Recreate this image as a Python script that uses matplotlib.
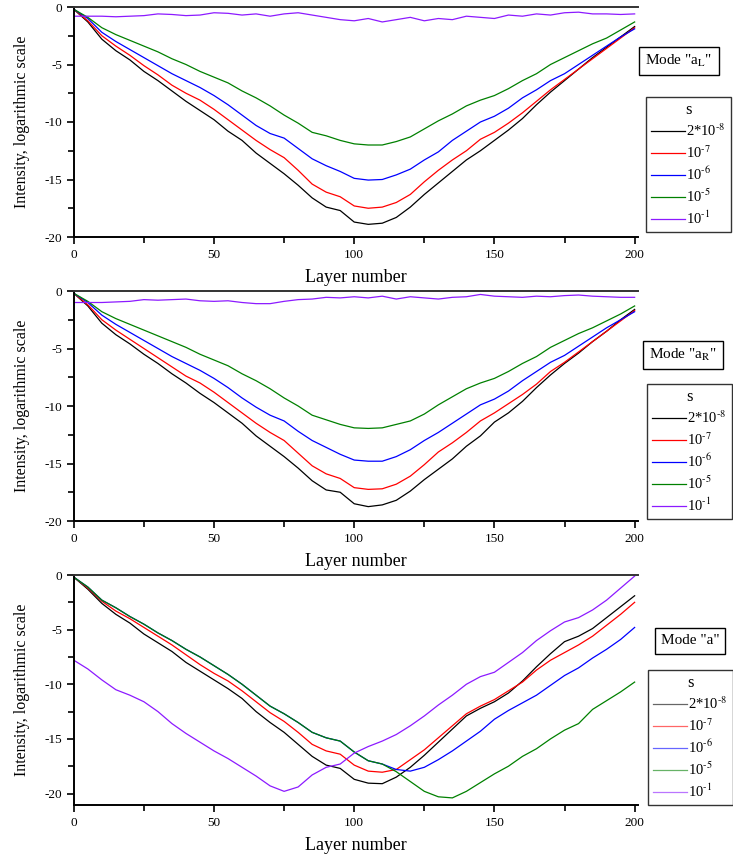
import numpy as np
import matplotlib
matplotlib.use("Agg")
import matplotlib.pyplot as plt
from matplotlib.ticker import MultipleLocator

plt.rcParams['font.family'] = ['Liberation Serif', 'DejaVu Serif']
plt.rcParams['mathtext.fontset'] = 'stix'
plt.rcParams['axes.unicode_minus'] = False

layers = np.arange(0, 201, 5)

labels = ['2*10$^{\\text{-}8}$', '10$^{\\text{-}7}$', '10$^{\\text{-}6}$', '10$^{\\text{-}5}$',
          '10$^{\\text{-}1}$']
colors = ['#000000', '#ff0000', '#0000ff', '#008000', '#8c1aff']
modes = ['Mode "a$_\\mathrm{L}$"', 'Mode "a$_\\mathrm{R}$"', 'Mode "a"']

# mode a_L
aL_black = [-0.2, -1.3, -2.8, -3.8, -4.6, -5.6, -6.4, -7.3, -8.2, -9.0, -9.8, -10.8, -11.6, -12.7, -13.6,
            -14.5, -15.5, -16.6, -17.4, -17.7, -18.7, -18.9, -18.8, -18.3, -17.4, -16.3, -15.3, -14.3,
            -13.3, -12.5, -11.6, -10.7, -9.7, -8.5, -7.4, -6.4, -5.4, -4.4, -3.5, -2.6, -1.7]
aL_red = [-0.2, -1.2, -2.5, -3.4, -4.2, -5.1, -5.9, -6.8, -7.5, -8.1, -8.9, -9.8, -10.7, -11.6, -12.4,
          -13.1, -14.2, -15.4, -16.1, -16.5, -17.3, -17.5, -17.4, -17.0, -16.3, -15.2, -14.2, -13.3,
          -12.5, -11.5, -10.9, -10.1, -9.2, -8.2, -7.2, -6.3, -5.4, -4.5, -3.6, -2.7, -1.8]
aL_blue = [-0.2, -1.0, -2.2, -3.0, -3.7, -4.4, -5.1, -5.8, -6.4, -7.0, -7.7, -8.5, -9.4, -10.3, -11.0,
           -11.4, -12.3, -13.2, -13.8, -14.3, -14.9, -15.05, -15.0, -14.6, -14.1, -13.3, -12.6, -11.6,
           -10.8, -10.0, -9.5, -8.8, -7.9, -7.2, -6.4, -5.8, -5.0, -4.2, -3.4, -2.6, -1.9]
aL_green = [-0.2, -0.9, -1.8, -2.4, -2.9, -3.4, -3.9, -4.5, -5.0, -5.6, -6.1, -6.6, -7.3, -7.9, -8.6,
            -9.4, -10.1, -10.9, -11.2, -11.6, -11.9, -12.0, -12.0, -11.7, -11.3, -10.6, -9.9, -9.3,
            -8.6, -8.1, -7.7, -7.1, -6.4, -5.8, -5.0, -4.4, -3.8, -3.2, -2.7, -2.0, -1.3]
aL_purple = [-0.8, -0.8, -0.8, -0.85, -0.8, -0.75, -0.6, -0.65, -0.75, -0.7, -0.5, -0.55, -0.7, -0.6,
             -0.8, -0.6, -0.5, -0.7, -0.9, -1.1, -1.2, -1.0, -1.3, -1.1, -0.9, -1.2, -1.0, -1.1, -0.8,
             -0.9, -1.0, -0.7, -0.8, -0.6, -0.7, -0.5, -0.45, -0.6, -0.6, -0.65, -0.6]

# mode a_R
aR_black = [-0.2, -1.3, -2.8, -3.8, -4.6, -5.5, -6.3, -7.2, -8.0, -8.9, -9.7, -10.6, -11.5, -12.6, -13.5,
            -14.4, -15.4, -16.5, -17.3, -17.5, -18.5, -18.75, -18.6, -18.2, -17.4, -16.4, -15.5, -14.6,
            -13.5, -12.6, -11.4, -10.6, -9.6, -8.4, -7.3, -6.3, -5.4, -4.4, -3.5, -2.5, -1.6]
aR_red = [-0.2, -1.2, -2.5, -3.4, -4.2, -5.0, -5.8, -6.6, -7.4, -8.0, -8.8, -9.7, -10.6, -11.5, -12.3,
          -13.0, -14.1, -15.2, -15.9, -16.3, -17.1, -17.25, -17.2, -16.8, -16.1, -15.1, -14.0, -13.2,
          -12.3, -11.3, -10.6, -9.8, -9.0, -8.1, -7.0, -6.2, -5.3, -4.4, -3.5, -2.6, -1.7]
aR_blue = [-0.2, -1.0, -2.1, -2.9, -3.6, -4.3, -5.0, -5.7, -6.3, -6.9, -7.6, -8.4, -9.3, -10.1, -10.8,
           -11.3, -12.2, -13.0, -13.6, -14.2, -14.7, -14.8, -14.8, -14.4, -13.8, -13.0, -12.3, -11.5,
           -10.7, -9.9, -9.4, -8.7, -7.8, -7.0, -6.2, -5.6, -4.8, -4.0, -3.2, -2.5, -1.8]
aR_green = [-0.2, -0.9, -1.8, -2.4, -2.9, -3.4, -3.9, -4.4, -4.9, -5.5, -6.0, -6.5, -7.2, -7.8, -8.5,
            -9.3, -10.0, -10.8, -11.2, -11.6, -11.9, -11.95, -11.9, -11.6, -11.3, -10.7, -9.9, -9.2,
            -8.5, -8.0, -7.6, -7.0, -6.3, -5.7, -4.9, -4.3, -3.7, -3.2, -2.6, -2.0, -1.3]
aR_purple = [-1.0, -1.0, -1.0, -0.95, -0.9, -0.75, -0.8, -0.75, -0.7, -0.85, -0.9, -0.85, -1.0, -1.1,
             -1.1, -0.9, -0.75, -0.7, -0.55, -0.6, -0.5, -0.6, -0.45, -0.7, -0.5, -0.6, -0.7, -0.55,
             -0.5, -0.3, -0.45, -0.5, -0.55, -0.45, -0.5, -0.4, -0.35, -0.45, -0.5, -0.55, -0.55]

# mode a
a_black = [-0.2, -1.3, -2.6, -3.6, -4.4, -5.4, -6.2, -7.0, -8.0, -8.8, -9.6, -10.4, -11.3, -12.5, -13.5,
           -14.4, -15.5, -16.6, -17.4, -17.7, -18.7, -19.05, -19.1, -18.5, -17.6, -16.5, -15.3, -14.1,
           -12.9, -12.2, -11.6, -10.8, -9.7, -8.4, -7.2, -6.1, -5.6, -4.9, -3.9, -2.9, -1.9]
a_red = [-0.2, -1.2, -2.4, -3.3, -4.0, -4.8, -5.6, -6.4, -7.3, -8.2, -9.0, -9.7, -10.6, -11.6, -12.6,
         -13.4, -14.4, -15.5, -16.1, -16.4, -17.4, -17.95, -18.05, -17.8, -16.9, -16.0, -14.9, -13.8,
         -12.7, -12.0, -11.4, -10.6, -9.8, -8.7, -7.8, -7.1, -6.4, -5.6, -4.6, -3.6, -2.5]
a_blue = [-0.2, -1.1, -2.3, -3.0, -3.8, -4.5, -5.3, -6.0, -6.8, -7.5, -8.3, -9.1, -10.0, -11.0, -12.0,
          -12.7, -13.5, -14.4, -14.9, -15.2, -16.2, -17.0, -17.3, -17.8, -17.95, -17.6, -16.9, -16.1,
          -15.2, -14.3, -13.2, -12.4, -11.7, -11.0, -10.1, -9.2, -8.5, -7.6, -6.8, -5.9, -4.8]
a_green = [-0.2, -1.1, -2.3, -3.0, -3.8, -4.5, -5.3, -6.0, -6.8, -7.5, -8.3, -9.1, -10.0, -11.0, -12.0,
           -12.7, -13.5, -14.4, -14.9, -15.2, -16.2, -17.0, -17.3, -18.0, -18.9, -19.8, -20.3, -20.4,
           -19.8, -19.0, -18.2, -17.5, -16.6, -15.9, -15.0, -14.2, -13.6, -12.3, -11.5, -10.7, -9.8]
a_purple = [-7.8, -8.6, -9.6, -10.5, -11.0, -11.6, -12.5, -13.6, -14.5, -15.3, -16.1, -16.8, -17.6, -18.4,
            -19.3, -19.8, -19.4, -18.3, -17.6, -17.3, -16.3, -15.7, -15.2, -14.6, -13.8, -12.9, -11.9,
            -11.0, -10.0, -9.3, -8.9, -8.0, -7.1, -6.0, -5.1, -4.3, -3.9, -3.2, -2.3, -1.2, -0.1]

panels = [
    [aL_black, aL_red, aL_blue, aL_green, aL_purple],
    [aR_black, aR_red, aR_blue, aR_green, aR_purple],
    [a_black, a_red, a_blue, a_green, a_purple],
]

W, H = 733, 860
fig = plt.figure(figsize=(W / 100, H / 100), dpi=100)

ax_tops = [7, 291, 575]
ylims = [(-20, 0), (-20, 0), (-21.05, 0)]
mode_pos = [(679, 61), (683, 355), (690, 641)]
leg_pos = [(731, 97), (732, 384), (733, 670)]  # upper right corners

for i, series in enumerate(panels):
    top = ax_tops[i]
    ax = fig.add_axes([73.8 / W, 1 - (top + 230) / H, (638 - 73.8) / W, 230 / H])
    for ys, c, lab in zip(series, colors, labels):
        ax.plot(layers, ys, color=c, lw=0.9, label=lab)
    ax.set_xlim(0, 201.2)
    ax.set_ylim(*ylims[i])
    ax.xaxis.set_major_locator(MultipleLocator(50))
    ax.xaxis.set_minor_locator(MultipleLocator(25))
    ax.yaxis.set_major_locator(MultipleLocator(5))
    ax.yaxis.set_minor_locator(MultipleLocator(2.5))
    ax.tick_params(which='both', direction='out', labelsize=9.5, width=1.2)
    ax.tick_params(which='major', length=5)
    ax.tick_params(which='minor', length=4)
    ax.spines['right'].set_visible(False)
    ax.spines['top'].set_color('#333333')
    ax.spines['top'].set_linewidth(1.4)
    ax.spines['left'].set_linewidth(1.4)
    ax.spines['bottom'].set_linewidth(1.4)
    ax.set_xlabel('Layer number', fontsize=13)
    ax.xaxis.set_label_coords(0.5, -0.139)
    ax.set_ylabel('Intensity, logarithmic scale', fontsize=11.5)
    ax.yaxis.set_label_coords(-0.078, 0.5)

    mx, my = mode_pos[i]
    fig.text(mx / W, 1 - my / H, modes[i], ha='center', va='center', fontsize=11,
             bbox=dict(boxstyle='square,pad=0.4', fc='white', ec='black', lw=1))

    lx, ly = leg_pos[i]
    leg = ax.legend(loc='upper right', bbox_to_anchor=(lx / W, 1 - ly / H),
                    bbox_transform=fig.transFigure, title='s', title_fontsize=12,
                    fontsize=10.5, frameon=True, fancybox=False, edgecolor='black',
                    handlelength=2.3, handletextpad=0.1, labelspacing=0.32,
                    borderpad=0.35, borderaxespad=0)
    leg.get_frame().set_linewidth(1.0)
    if i == 2:
        for ln in leg.get_lines():
            ln.set_alpha(0.6)

fig.savefig('out.png', dpi=100)
